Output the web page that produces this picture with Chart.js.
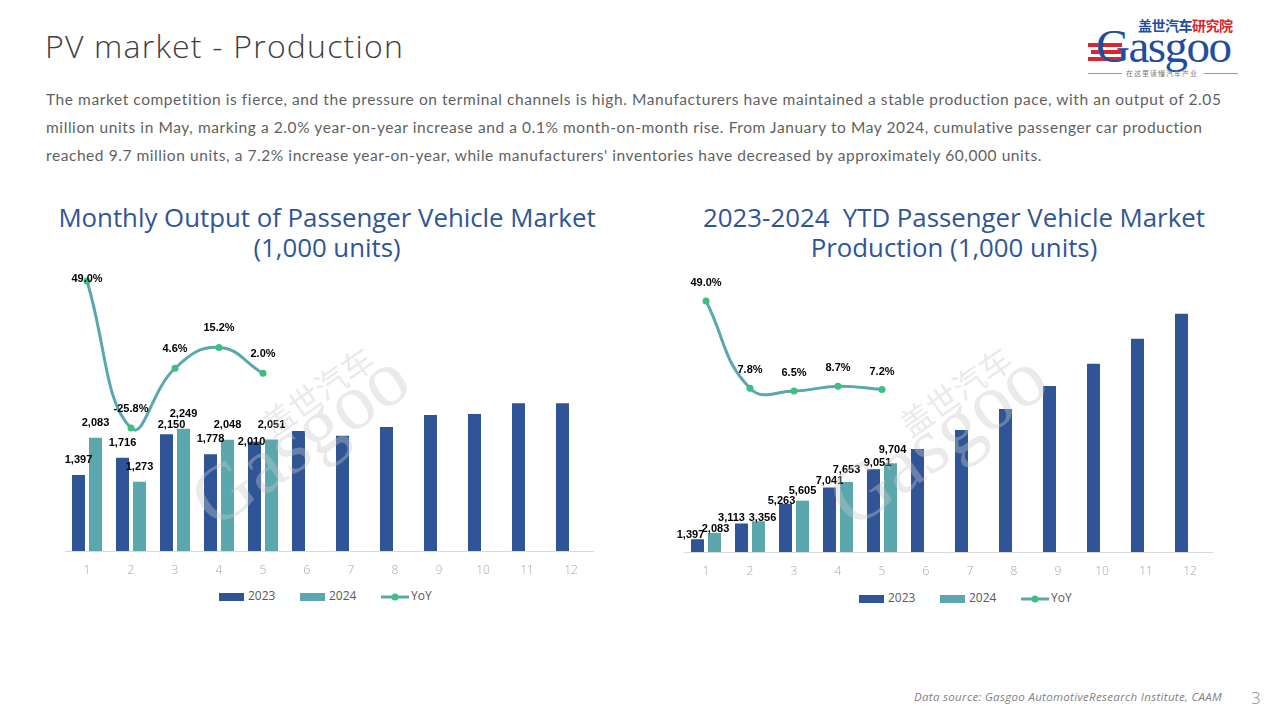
<!DOCTYPE html>
<html>
<head>
<meta charset="utf-8">
<script src="https://cdn.jsdelivr.net/npm/chart.js@4.4.1/dist/chart.umd.min.js"></script>
<style>
  html, body { margin: 0; padding: 0; background: #fff; }
  body { width: 1280px; height: 720px; position: relative; overflow: hidden; font-family: Lato, "Open Sans", sans-serif; }
  .abs { position: absolute; white-space: nowrap; }
  #title { left: 45px; top: 23px; font-family: "Open Sans", sans-serif; font-weight: 300; font-size: 32px; color: #404040; line-height: 46px; }
  .para { left: 46px; font-family: Lato, sans-serif; font-size: 15.5px; color: #5F5F5F; line-height: 20px; }
  .ctitle { font-family: "Open Sans", sans-serif; font-size: 25.8px; color: #2F5597; line-height: 30px; text-align: center; }
  .legend { font-family: "Open Sans", sans-serif; font-size: 12px; color: #595959; line-height: 16px; }
  .lgbox { display: inline-block; width: 25px; height: 8px; vertical-align: middle; margin-right: 4px; }
  .wm { color: rgba(200,200,200,0.38); font-family: "Liberation Serif", serif; transform-origin: left bottom; pointer-events: none; z-index: 5; }
  #footer { left: 914px; top: 689px; font-family: "Open Sans", sans-serif; font-style: italic; font-size: 11.5px; color: #7F7F7F; }
  #pnum { left: 1251px; top: 686px; font-family: "Open Sans", sans-serif; font-weight: 300; font-size: 17px; color: #8C8C8C; }
</style>
</head>
<body>
<script>
// ---------- DATA ----------
const months = ['1','2','3','4','5','6','7','8','9','10','11','12'];
const monthly2023 = [1397, 1716, 2150, 1778, 2010, 2210, 2120, 2280, 2500, 2520, 2720, 2720];
const monthly2024 = [2083, 1273, 2249, 2048, 2051, null, null, null, null, null, null, null];
const monthlyYoY  = [49.0, -25.8, 4.6, 15.2, 2.0, null, null, null, null, null, null, null];
const ytd2023 = [1397, 3113, 5263, 7041, 9051, 11260, 13330, 15630, 18140, 20550, 23280, 26010];
const ytd2024 = [2083, 3356, 5605, 7653, 9704, null, null, null, null, null, null, null];
const ytdYoY  = [49.0, 7.8, 6.5, 8.7, 7.2, null, null, null, null, null, null, null];
const seriesNames = ['2023', '2024', 'YoY'];
const labelledMonths = 5; // values are printed for the months that have 2024 data
</script>

<div id="title" class="abs">PV market - Production</div>

<div class="abs para" id="p1" style="top:89px">The market competition is fierce, and the pressure on terminal channels is high. Manufacturers have maintained a stable production pace, with an output of 2.05</div>
<div class="abs para" id="p2" style="top:117px">million units in May, marking a 2.0% year-on-year increase and a 0.1% month-on-month rise. From January to May 2024, cumulative passenger car production</div>
<div class="abs para" id="p3" style="top:145px">reached 9.7 million units, a 7.2% increase year-on-year, while manufacturers' inventories have decreased by approximately 60,000 units.</div>

<!-- logo -->
<div class="abs" style="left:1088px;top:16px;width:150px;height:62px;">
  <div class="abs" style="left:0px;top:27px;width:34px;height:4px;background:#D7262E;"></div>
  <div class="abs" style="left:3px;top:34px;width:31px;height:4px;background:#D7262E;"></div>
  <div class="abs" style="left:0px;top:41px;width:34px;height:4px;background:#D7262E;"></div>
  <div class="abs" style="left:50px;top:1px;font-family:'Noto Sans CJK SC',sans-serif;font-weight:700;font-size:14px;line-height:16px;letter-spacing:-0.5px;"><span style="color:#1E4E9D">盖世汽车</span><span style="color:#D7262E">研究院</span></div>
  <div class="abs" style="left:8px;top:5px;font-family:'Liberation Serif',serif;font-size:47px;line-height:50px;color:#1E4E9D;letter-spacing:-1.5px;">Gasgoo</div>
  <div class="abs" style="left:0px;top:57px;width:34px;height:1px;background:#9A9A9A;"></div>
  <div class="abs" style="left:116px;top:57px;width:34px;height:1px;background:#9A9A9A;"></div>
  <div class="abs" style="left:38px;top:52px;font-family:'Noto Sans CJK SC',sans-serif;font-size:7px;line-height:10px;color:#777;letter-spacing:1px;">在这里读懂汽车产业</div>
</div>

<!-- chart titles -->
<div class="abs ctitle" style="left:27px;top:202px;width:600px;">Monthly Output of Passenger Vehicle Market<br>(1,000 units)</div>
<div class="abs ctitle" style="left:654px;top:202px;width:600px;">2023-2024&nbsp; YTD Passenger Vehicle Market<br>Production (1,000 units)</div>

<!-- charts (plot areas: 65-593 and 684-1212) -->
<div class="abs" style="left:45px;top:262px;width:568px;height:320px;"><canvas id="c1"></canvas></div>
<div class="abs" style="left:664px;top:262px;width:568px;height:320px;"><canvas id="c2"></canvas></div>

<!-- watermarks -->
<div class="abs wm" style="left:222px;top:461px;font-size:80px;line-height:80px;transform:rotate(-35deg);">Gasgoo</div>
<div class="abs wm" style="left:274px;top:408px;font-family:'Noto Sans CJK SC',sans-serif;font-size:32px;line-height:33px;transform:rotate(-35deg);">盖世汽车</div>
<div class="abs wm" style="left:860px;top:461px;font-size:80px;line-height:80px;transform:rotate(-35deg);">Gasgoo</div>
<div class="abs wm" style="left:912px;top:408px;font-family:'Noto Sans CJK SC',sans-serif;font-size:32px;line-height:33px;transform:rotate(-35deg);">盖世汽车</div>

<!-- legends -->
<div class="abs legend" style="left:219px;top:588px;">
  <span class="lgbox" style="background:#2F5597"></span><span id="l1a"></span>
</div>
<div class="abs legend" style="left:300px;top:588px;">
  <span class="lgbox" style="background:#5BA7AE"></span><span id="l1b"></span>
</div>
<div class="abs legend" style="left:381px;top:588px;">
  <svg width="28" height="8" style="vertical-align:middle;margin-right:2px"><line x1="0" y1="4" x2="28" y2="4" stroke="#5BA7AE" stroke-width="3"/><circle cx="14" cy="4" r="3.5" fill="#3CBF7F"/></svg><span id="l1c"></span>
</div>
<div class="abs legend" style="left:859px;top:590px;">
  <span class="lgbox" style="background:#2F5597"></span><span id="l2a"></span>
</div>
<div class="abs legend" style="left:940px;top:590px;">
  <span class="lgbox" style="background:#5BA7AE"></span><span id="l2b"></span>
</div>
<div class="abs legend" style="left:1021px;top:590px;">
  <svg width="28" height="8" style="vertical-align:middle;margin-right:2px"><line x1="0" y1="4" x2="28" y2="4" stroke="#5BA7AE" stroke-width="3"/><circle cx="14" cy="4" r="3.5" fill="#3CBF7F"/></svg><span id="l2c"></span>
</div>

<div id="footer" class="abs">Data source: Gasgoo AutomotiveResearch Institute, CAAM</div>
<div id="pnum" class="abs">3</div>

<script>
['l1a','l2a'].forEach(id => document.getElementById(id).textContent = seriesNames[0]);
['l1b','l2b'].forEach(id => document.getElementById(id).textContent = seriesNames[1]);
['l1c','l2c'].forEach(id => document.getElementById(id).textContent = seriesNames[2]);

// fit text lines to the reference widths
function fitWidth(id, w) {
  const el = document.getElementById(id);
  const n = el.textContent.length;
  const cur = el.getBoundingClientRect().width;
  el.style.letterSpacing = ((w - cur) / n) + 'px';
}
fitWidth('p1', 1176); fitWidth('p2', 1157); fitWidth('p3', 996);
fitWidth('title', 359); fitWidth('footer', 308);

const C2023 = '#2F5597', C2024 = '#5BA7AE', CLINE = '#5BA7AE', CPT = '#3CBF7F';
const fmtNum = v => v.toLocaleString('en-US');
const fmtPct = v => v.toFixed(1) + '%';

function makeLabelPlugin(sets) {
  return {
    id: 'valueLabels',
    afterDatasetsDraw(chart) {
      const ctx = chart.ctx;
      ctx.save();
      ctx.font = 'bold 11px "Liberation Sans", Arial, sans-serif';
      ctx.fillStyle = '#000000';
      ctx.textAlign = 'center';
      ctx.textBaseline = 'middle';
      chart.data.datasets.forEach((ds, di) => {
        const cfg = sets[di];
        if (!cfg) return;
        const meta = chart.getDatasetMeta(di);
        meta.data.forEach((el, i) => {
          if (i >= labelledMonths) return;
          const v = ds.data[i];
          if (v === null || v === undefined) return;
          const nd = (cfg.nudge && cfg.nudge[i]) || [0, 0];
          const x = el.x + nd[0];
          let y = el.y - cfg.dy + nd[1];
          if (cfg.minY !== undefined) y = Math.max(y, cfg.minY);
          ctx.fillText(cfg.fmt(v), x, y);
        });
      });
      ctx.restore();
    }
  };
}

function makeChart(id, d23, d24, yoy, yMax, y2Min, y2Max, axisH, sets) {
  return new Chart(document.getElementById(id), {
    type: 'bar',
    data: {
      labels: months,
      datasets: [
        { label: seriesNames[0], data: d23, backgroundColor: C2023, yAxisID: 'y', order: 2,
          categoryPercentage: 0.773, barPercentage: 0.765 },
        { label: seriesNames[1], data: d24, backgroundColor: C2024, yAxisID: 'y', order: 2,
          categoryPercentage: 0.773, barPercentage: 0.765 },
        { type: 'line', label: seriesNames[2], data: yoy, yAxisID: 'y2', order: 0,
          borderColor: CLINE, borderWidth: 3, tension: 0.45, spanGaps: false,
          pointRadius: 3.5, pointBackgroundColor: CPT, pointBorderColor: CPT, pointBorderWidth: 0 }
      ]
    },
    options: {
      responsive: true, maintainAspectRatio: false, animation: false,
      layout: { padding: { top: 8, bottom: 0, left: 20, right: 20 } },
      plugins: { legend: { display: false }, tooltip: { enabled: false } },
      scales: {
        x: {
          grid: { display: true, drawOnChartArea: false, drawTicks: false },
          border: { display: true, color: '#D9D9D9', width: 1 },
          ticks: { padding: 12, color: '#A6A6A6', font: { family: '"Open Sans", sans-serif', size: 12, weight: 300 } },
          afterFit: s => { s.height = axisH; }
        },
        y: { display: false, min: 0, max: yMax },
        y2: { display: false, min: y2Min, max: y2Max, position: 'right' }
      }
    },
    plugins: [makeLabelPlugin(sets)]
  });
}

makeChart('c1', monthly2023, monthly2024, monthlyYoY, 5170, -88.4, 54.6, 31, {
  0: { fmt: fmtNum, dy: 15, nudge: { 2: [5, 6], 4: [-3, 15] } },
  1: { fmt: fmtNum, dy: 15 },
  2: { fmt: fmtPct, dy: 19, minY: 17 }
});
makeChart('c2', ytd2023, ytd2024, ytdYoY, 30800, -69.5, 63.6, 30, {
  0: { fmt: fmtNum, dy: 6, nudge: { 0: [-7, 2], 1: [-10, 0], 2: [-4, 3], 3: [0, -1], 4: [4, 0] } },
  1: { fmt: fmtNum, dy: 11, nudge: { 0: [1, 7], 1: [4, 8], 2: [0, 1], 3: [0, -1], 4: [2, -2] } },
  2: { fmt: fmtPct, dy: 18 }
});
</script>
</body>
</html>
